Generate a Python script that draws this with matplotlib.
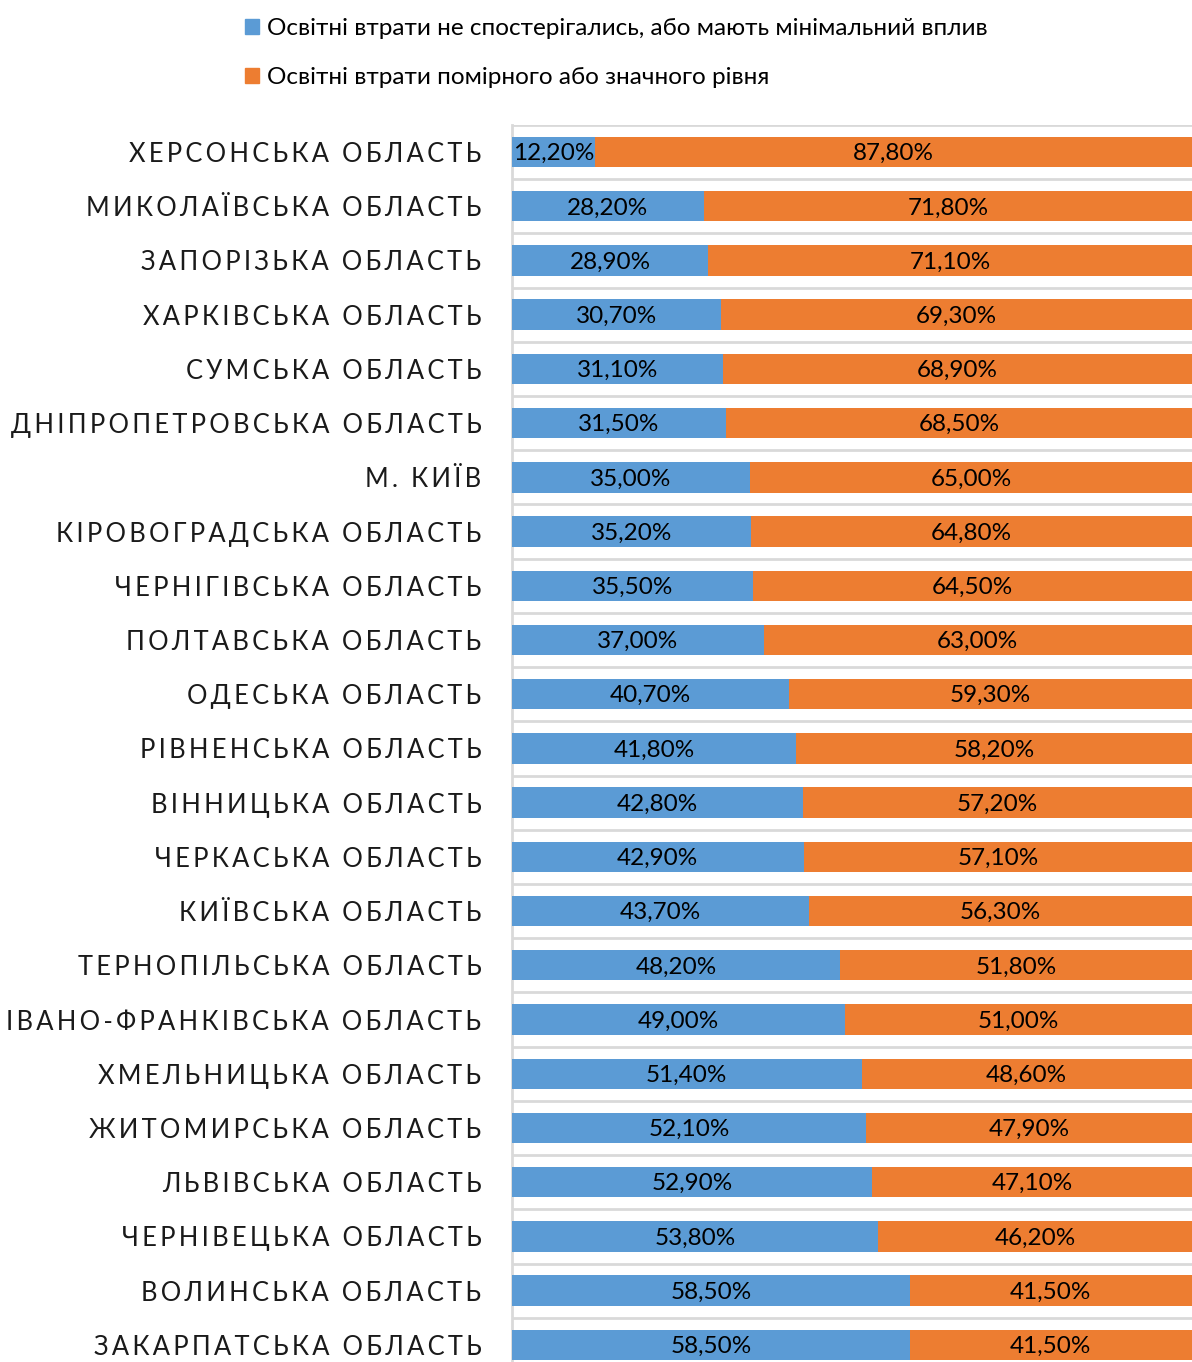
import numpy as np
import matplotlib.pyplot as plt
from matplotlib.patches import Patch

# ------------------------------------------------------------
# Data (top row first)
# ------------------------------------------------------------
regions = [
    "ХЕРСОНСЬКА ОБЛАСТЬ", "МИКОЛАЇВСЬКА ОБЛАСТЬ", "ЗАПОРІЗЬКА ОБЛАСТЬ",
    "ХАРКІВСЬКА ОБЛАСТЬ", "СУМСЬКА ОБЛАСТЬ", "ДНІПРОПЕТРОВСЬКА ОБЛАСТЬ",
    "М. КИЇВ", "КІРОВОГРАДСЬКА ОБЛАСТЬ", "ЧЕРНІГІВСЬКА ОБЛАСТЬ",
    "ПОЛТАВСЬКА ОБЛАСТЬ", "ОДЕСЬКА ОБЛАСТЬ", "РІВНЕНСЬКА ОБЛАСТЬ",
    "ВІННИЦЬКА ОБЛАСТЬ", "ЧЕРКАСЬКА ОБЛАСТЬ", "КИЇВСЬКА ОБЛАСТЬ",
    "ТЕРНОПІЛЬСЬКА ОБЛАСТЬ", "ІВАНО-ФРАНКІВСЬКА ОБЛАСТЬ", "ХМЕЛЬНИЦЬКА ОБЛАСТЬ",
    "ЖИТОМИРСЬКА ОБЛАСТЬ", "ЛЬВІВСЬКА ОБЛАСТЬ", "ЧЕРНІВЕЦЬКА ОБЛАСТЬ",
    "ВОЛИНСЬКА ОБЛАСТЬ", "ЗАКАРПАТСЬКА ОБЛАСТЬ",
]
minimal = [12.2, 28.2, 28.9, 30.7, 31.1, 31.5, 35.0, 35.2, 35.5, 37.0, 40.7, 41.8,
           42.8, 42.9, 43.7, 48.2, 49.0, 51.4, 52.1, 52.9, 53.8, 58.5, 58.5]
significant = [87.8, 71.8, 71.1, 69.3, 68.9, 68.5, 65.0, 64.8, 64.5, 63.0, 59.3, 58.2,
               57.2, 57.1, 56.3, 51.8, 51.0, 48.6, 47.9, 47.1, 46.2, 41.5, 41.5]
series_names = [
    "Освітні втрати не спостерігались, або мають мінімальний вплив",
    "Освітні втрати помірного або значного рівня",
]

BLUE = "#5B9BD5"
ORANGE = "#ED7D31"
GRID = "#D9D9D9"

plt.rcParams["font.family"] = ["Lato", "DejaVu Sans"]


def spaced(s):
    # emulate letter spacing of the original labels
    return "\u2009".join(s)


def fmt(v):
    return f"{v:.2f}%".replace(".", ",")


fig = plt.figure(figsize=(11.92, 13.62), dpi=100)
ax = fig.add_axes([0.4295, -0.0073, 0.5705, 0.9156])

n = len(regions)
y = np.arange(n)
h = 0.56
ax.barh(y, minimal, height=h, color=BLUE, zorder=3)
ax.barh(y, significant, left=minimal, height=h, color=ORANGE, zorder=3)

for yi, a, b in zip(y, minimal, significant):
    ax.text(a / 2, yi + 0.03, fmt(a), ha="center", va="center", fontsize=17.5,
            color="black", zorder=4)
    ax.text(a + b / 2, yi + 0.03, fmt(b), ha="center", va="center", fontsize=17.5,
            color="black", zorder=4)

ax.set_xlim(0, 100)
ax.set_ylim(n - 0.5, -0.5)
ax.set_yticks(y)
ax.set_yticklabels([spaced(r) for r in regions], fontsize=18.4, color="#1a1a1a")
ax.tick_params(axis="y", length=0, pad=22)
ax.set_xticks([])

# row separators
for b in np.arange(-0.5, n, 1.0):
    ax.axhline(b, color=GRID, lw=2, zorder=1)

for s in ["top", "right", "bottom"]:
    ax.spines[s].set_visible(False)
ax.spines["left"].set_color(GRID)
ax.spines["left"].set_linewidth(2)

handles = [Patch(color=BLUE), Patch(color=ORANGE)]
fig.legend(handles, series_names, loc="upper left", bbox_to_anchor=(0.187, 1.003),
           frameon=False, fontsize=17.5, handlelength=0.6, handleheight=0.6,
           handletextpad=0.3, labelspacing=1.17)

fig.savefig("out.png", dpi=100)
